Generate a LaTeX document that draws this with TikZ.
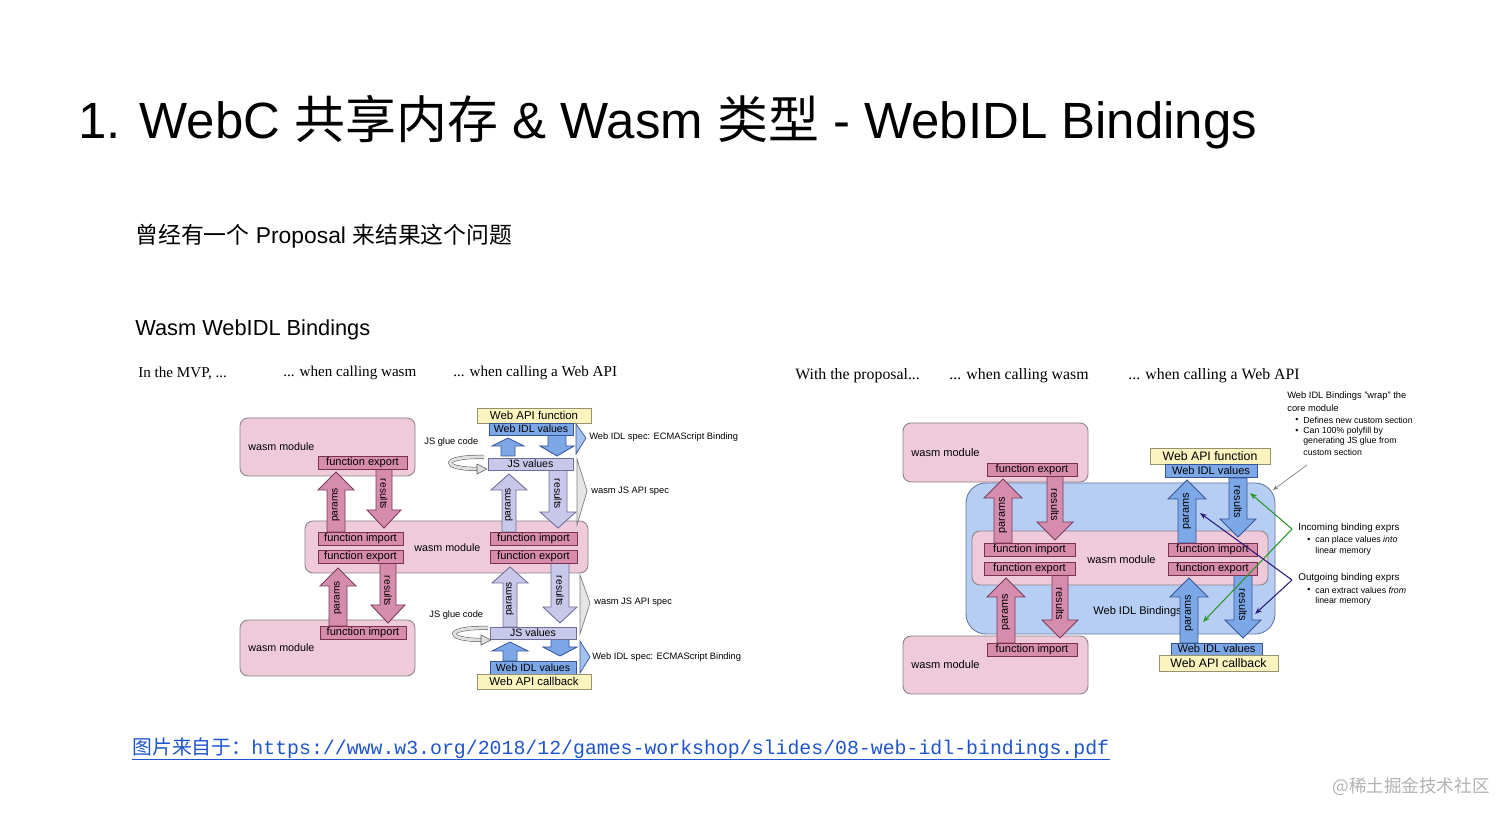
\documentclass[tikz,border=0pt]{standalone}
\usepackage{fontspec}
\setmainfont{Liberation Sans}
\newfontfamily\cjk{Noto Sans CJK SC}
\newfontfamily\serifx{Liberation Serif}
\newfontfamily\monox{Liberation Mono}
\usetikzlibrary{arrows.meta}
\definecolor{modfill}{RGB}{238,202,218}
\definecolor{modedge}{RGB}{140,130,135}
\definecolor{fnfill}{RGB}{215,140,172}
\definecolor{fnedge}{RGB}{120,50,80}
\definecolor{pafill}{RGB}{214,140,172}
\definecolor{paedge}{RGB}{120,60,90}
\definecolor{lavfill}{RGB}{200,200,235}
\definecolor{lavedge}{RGB}{110,110,150}
\definecolor{idlfill}{RGB}{125,168,232}
\definecolor{idledge}{RGB}{55,85,150}
\definecolor{yelfill}{RGB}{251,244,190}
\definecolor{yeledge}{RGB}{150,145,110}
\definecolor{regfill}{RGB}{182,206,244}
\definecolor{regedge}{RGB}{100,120,165}
\definecolor{grn}{RGB}{40,150,40}
\definecolor{prp}{RGB}{45,25,120}
\definecolor{linkc}{RGB}{30,85,205}
\newcommand\fs[1]{\fontsize{#1}{#1}\selectfont}
\newcommand\bx[7]{\node[#1,minimum width={(#4-#2)*0.02cm},minimum height={(#5-#3)*0.02cm}] (#6) at ({(#2+#4)/2},{(#3+#5)/2}) {#7};}
\newcommand\uarr[7]{\draw[#1] ({#2-#6},#3) -- ({#2-#6},{#4+#7}) -- ({#2-#5},{#4+#7}) -- (#2,#4) -- ({#2+#5},{#4+#7}) -- ({#2+#6},{#4+#7}) -- ({#2+#6},#3) -- cycle;}
\newcommand\darr[7]{\draw[#1] ({#2-#6},#3) -- ({#2-#6},{#4-#7}) -- ({#2-#5},{#4-#7}) -- (#2,#4) -- ({#2+#5},{#4-#7}) -- ({#2+#6},{#4-#7}) -- ({#2+#6},#3) -- cycle;}
\tikzset{
 modbox/.style={draw=modedge,fill=modfill,rounded corners=0.16cm,line width=0.5pt,inner sep=0},
 regbox/.style={draw=regedge,fill=regfill,rounded corners=0.4cm,line width=0.5pt,inner sep=0},
 fnbox/.style={draw=fnedge,fill=fnfill,inner sep=0,line width=0.5pt,font=\fs{6.3}},
 lavbox/.style={draw=lavedge,fill=lavfill,inner sep=0,line width=0.5pt,font=\fs{6}},
 idlbox/.style={draw=idledge,fill=idlfill,inner sep=0,line width=0.5pt,font=\fs{6}},
 yelbox/.style={draw=yeledge,fill=yelfill,inner sep=0,line width=0.5pt,font=\fs{6.5}},
 parr/.style={draw=paedge,fill=pafill,line width=0.5pt},
 larr/.style={draw=lavedge,fill=lavfill,line width=0.5pt},
 barr/.style={draw=idledge,fill=idlfill,line width=0.5pt},
 alab/.style={inner sep=0,font=\fs{5.8}},
 txt/.style={inner sep=0,anchor=west,font=\fs{6.1}},
 note/.style={inner sep=0,anchor=west,font=\fs{5.3}},
 notes/.style={inner sep=0,anchor=west,font=\fs{5}},
 hdr/.style={inner sep=0,anchor=west,font=\serifx\fs{8.6}},
 wedgeb/.style={draw=idledge,fill=idlfill!70,line width=0.4pt},
 wedgeg/.style={draw=gray,fill=gray!20,line width=0.4pt},
 swoosh/.style={draw=gray!70!black,double=gray!25,double distance=0.06cm,line width=0.3pt},
 swhead/.style={draw=gray!70!black,fill=gray!25,line width=0.3pt},
 gline/.style={draw=grn,line width=0.6pt,-{Stealth[length=4pt,width=3pt]}},
 pline/.style={draw=prp,line width=0.6pt,-{Stealth[length=4pt,width=3pt]}},
}
\begin{document}
\begin{tikzpicture}[x=0.02cm,y=-0.02cm]
\useasboundingbox[fill=white] (0,0) rectangle (1512,820);

% ---------- headings ----------
\node[inner sep=0,anchor=west,font=\fs{29}] (title) at (78,122) {1. WebC {\cjk 共享内存} \& Wasm {\cjk 类型} - WebIDL Bindings};
\node[inner sep=0,anchor=west,font=\fs{13}] (sub) at (135,236) {{\cjk 曾经有一个} Proposal {\cjk 来结果这个问题}};
\node[inner sep=0,anchor=west,font=\fs{12.4}] (sec) at (135,330) {Wasm WebIDL Bindings};

% ---------- left diagram headers ----------
\node[hdr] (h1) at (138,373) {In the MVP, ...};
\node[hdr] (h2) at (283,373) {... when calling wasm};
\node[hdr] (h3) at (453,373) {... when calling a Web API};

% ---------- left diagram ----------
\bx{modbox}{240}{418}{415}{476}{m1}{}
\bx{modbox}{305}{521}{588}{573}{m2}{}
\bx{modbox}{240}{620}{415}{676}{m3}{}
\node[txt] (m1t) at (248,447) {wasm module};
\node[txt] (m2t) at (414,548) {wasm module};
\node[txt] (m3t) at (248,648) {wasm module};

\uarr{parr}{336}{532}{472}{18}{9}{18}
\darr{parr}{384}{469}{528}{17}{8}{18}
\uarr{parr}{338}{626}{568}{18}{9}{18}
\darr{parr}{388}{563}{623}{17}{8}{18}
\node[alab,rotate=90] (a1) at (336,505) {params};
\node[alab,rotate=-90] (a2) at (384,494) {results};
\node[alab,rotate=90] (a3) at (338,598) {params};
\node[alab,rotate=-90] (a4) at (388,591) {results};

\uarr{larr}{509}{532}{474}{18}{7}{16}
\darr{larr}{558}{470}{528}{18}{9}{16}
\uarr{larr}{510}{627}{567}{18}{7}{16}
\darr{larr}{560}{563}{623}{17}{9}{16}
\node[alab,rotate=90] (l1) at (509,505) {params};
\node[alab,rotate=-90] (l2) at (558,494) {results};
\node[alab,rotate=90] (l3) at (510,599) {params};
\node[alab,rotate=-90] (l4) at (560,591) {results};

\uarr{barr}{508}{456}{438}{16}{7}{8}
\darr{barr}{557}{435}{456}{17}{9}{10}
\uarr{barr}{510}{661}{642}{18}{7}{9}
\darr{barr}{560}{639}{656}{17}{9}{9}

\bx{fnbox}{318}{456}{407}{469}{fe1}{function export}
\bx{fnbox}{318}{532}{403}{545}{fi2a}{function import}
\bx{fnbox}{318}{550}{403}{563}{fe2a}{function export}
\bx{fnbox}{490}{532}{577}{545}{fi2b}{function import}
\bx{fnbox}{490}{550}{577}{563}{fe2b}{function export}
\bx{fnbox}{320}{626}{406}{639}{fi3}{function import}

\bx{yelbox}{477}{408}{591}{423}{y1}{Web API function}
\bx{idlbox}{489}{423}{573}{435}{b1}{Web IDL values}
\bx{lavbox}{488}{458}{573}{470}{j1}{JS values}
\bx{lavbox}{490}{627}{576}{639}{j2}{JS values}
\bx{idlbox}{490}{661}{576}{674}{b2}{Web IDL values}
\bx{yelbox}{477}{674}{591}{689}{y2}{Web API callback}

% wedges
\draw[wedgeb] (576,424) -- (586,438) -- (576,454) -- cycle;
\draw[wedgeg] (577,459) -- (587,491) -- (577,525) -- cycle;
\draw[wedgeg] (580,575) -- (590,603) -- (580,634) -- cycle;
\draw[wedgeb] (580,641) -- (590,657) -- (580,673) -- cycle;
\node[note] (n1) at (589,437) {Web IDL spec: ECMAScript Binding};
\node[note] (n2) at (591,491) {wasm JS API spec};
\node[note] (n3) at (594,602) {wasm JS API spec};
\node[note] (n4) at (592,657) {Web IDL spec: ECMAScript Binding};

% JS glue code
\node[note] (g1) at (424,442) {JS glue code};
\draw[swoosh] (484,457) .. controls (440,456) and (440,469) .. (478,469);
\draw[swhead] (477,464) -- (487,469) -- (477,474) -- cycle;
\node[note] (g2) at (429,615) {JS glue code};
\draw[swoosh] (488,628) .. controls (444,627) and (444,640) .. (482,640);
\draw[swhead] (481,635) -- (491,640) -- (481,645) -- cycle;

% ---------- right diagram headers ----------
\node[hdr,font=\serifx\fs{9}] (r1) at (795,376) {With the proposal...};
\node[hdr,font=\serifx\fs{9}] (r2) at (949,376) {... when calling wasm};
\node[hdr,font=\serifx\fs{9}] (r3) at (1128,376) {... when calling a Web API};

% ---------- right diagram ----------
\bx{regbox}{966}{483}{1275}{634}{reg}{}
\bx{modbox}{903}{423}{1088}{482}{rm1}{}
\bx{modbox}{903}{636}{1088}{694}{rm3}{}
\bx{modbox}{972}{531}{1268}{585}{rm2}{}
\node[txt,font=\fs{6.3}] (rm1t) at (911,453) {wasm module};
\node[txt,font=\fs{6.3}] (rm3t) at (911,665) {wasm module};
\node[txt,font=\fs{6.3}] (rm2t) at (1087,560) {wasm module};
\node[txt,font=\fs{6.3}] (wib) at (1093,612) {Web IDL Bindings};

\uarr{parr}{1003}{543}{479}{19}{9}{19}
\darr{parr}{1055}{476}{540}{18}{8}{18}
\uarr{parr}{1006}{643}{578}{19}{9}{19}
\darr{parr}{1060}{575}{638}{18}{8}{18}
\node[alab,font=\fs{6.2},rotate=90] (p1) at (1003,515) {params};
\node[alab,font=\fs{6.2},rotate=-90] (p2) at (1055,505) {results};
\node[alab,font=\fs{6.2},rotate=90] (p3) at (1006,612) {params};
\node[alab,font=\fs{6.2},rotate=-90] (p4) at (1060,604) {results};

\uarr{barr}{1187}{543}{480}{19}{9}{19}
\darr{barr}{1238}{478}{537}{18}{9}{18}
\uarr{barr}{1189}{643}{578}{19}{9}{19}
\darr{barr}{1243}{575}{638}{18}{9}{18}
\node[alab,font=\fs{6.2},rotate=90] (q1) at (1187,511) {params};
\node[alab,font=\fs{6.2},rotate=-90] (q2) at (1238,502) {results};
\node[alab,font=\fs{6.2},rotate=90] (q3) at (1189,613) {params};
\node[alab,font=\fs{6.2},rotate=-90] (q4) at (1243,605) {results};

\bx{fnbox}{987}{463}{1077}{476}{rfe1}{function export}
\bx{fnbox}{984}{543}{1075}{556}{rfi2a}{function import}
\bx{fnbox}{984}{562}{1075}{575}{rfe2a}{function export}
\bx{fnbox}{1168}{543}{1257}{556}{rfi2b}{function import}
\bx{fnbox}{1168}{562}{1257}{575}{rfe2b}{function export}
\bx{fnbox}{987}{643}{1077}{656}{rfi3}{function import}

\bx{yelbox,font=\fs{7}}{1150}{448}{1270}{464}{ry1}{Web API function}
\bx{idlbox,font=\fs{6.3}}{1165}{464}{1257}{477}{rb1}{Web IDL values}
\bx{idlbox,font=\fs{6.3}}{1171}{643}{1262}{655}{rb2}{Web IDL values}
\bx{yelbox,font=\fs{7}}{1159}{655}{1278}{671}{ry2}{Web API callback}

% binding expression pointers
\coordinate (gt) at (1292,529);
\coordinate (ga) at (1250,493);
\coordinate (gb) at (1203,622);
\coordinate (pt) at (1292,580);
\coordinate (pa) at (1200,513);
\coordinate (pb) at (1255,614);
\draw[gline] (gt) -- (ga);
\draw[gline] (gt) -- (gb);
\draw[pline] (pt) -- (pa);
\draw[pline] (pt) -- (pb);

\coordinate (wa) at (1307,465);
\coordinate (wb) at (1273,490);
\draw[gray,line width=0.4pt,-{Stealth[length=3pt,width=2.5pt]}] (wa) -- (wb);

% annotations
\node[note] (w1) at (1287,396) {Web IDL Bindings "wrap" the};
\node[note] (w2) at (1287,408) {core module};
\node[notes] (w3b) at (1295,420) {\textbullet};
\node[notes] (w3) at (1303,420) {Defines new custom section};
\node[notes] (w4b) at (1295,431) {\textbullet};
\node[notes] (w4) at (1303,431) {Can 100\% polyfill by};
\node[notes] (w5) at (1303,441) {generating JS glue from};
\node[notes] (w6) at (1303,452) {custom section};

\node[note,font=\fs{5.6}] (i1) at (1298,528) {Incoming binding exprs};
\node[notes] (i2b) at (1307,540) {\textbullet};
\node[notes] (i2) at (1315,540) {can place values \textit{into}};
\node[notes] (i3) at (1315,551) {linear memory};
\node[note,font=\fs{5.6}] (o1) at (1298,578) {Outgoing binding exprs};
\node[notes] (o2b) at (1307,590) {\textbullet};
\node[notes] (o2) at (1315,590) {can extract values \textit{from}};
\node[notes] (o3) at (1315,601) {linear memory};

% ---------- footer ----------
\node[inner sep=0,anchor=west,text=linkc,font=\fs{11.3}] (link) at (132,748) {{\cjk 图片来自于：}{\monox https://www.w3.org/2018/12/games-workshop/slides/08-web-idl-bindings.pdf}};
\draw[linkc,line width=0.6pt] ([yshift=-0.3pt]link.south west) -- ([yshift=-0.3pt]link.south east);
\node[inner sep=0,anchor=east,text=gray!60,font=\cjk\fs{10}] (wm) at (1490,787) {@稀土掘金技术社区};
\end{tikzpicture}
\end{document}
